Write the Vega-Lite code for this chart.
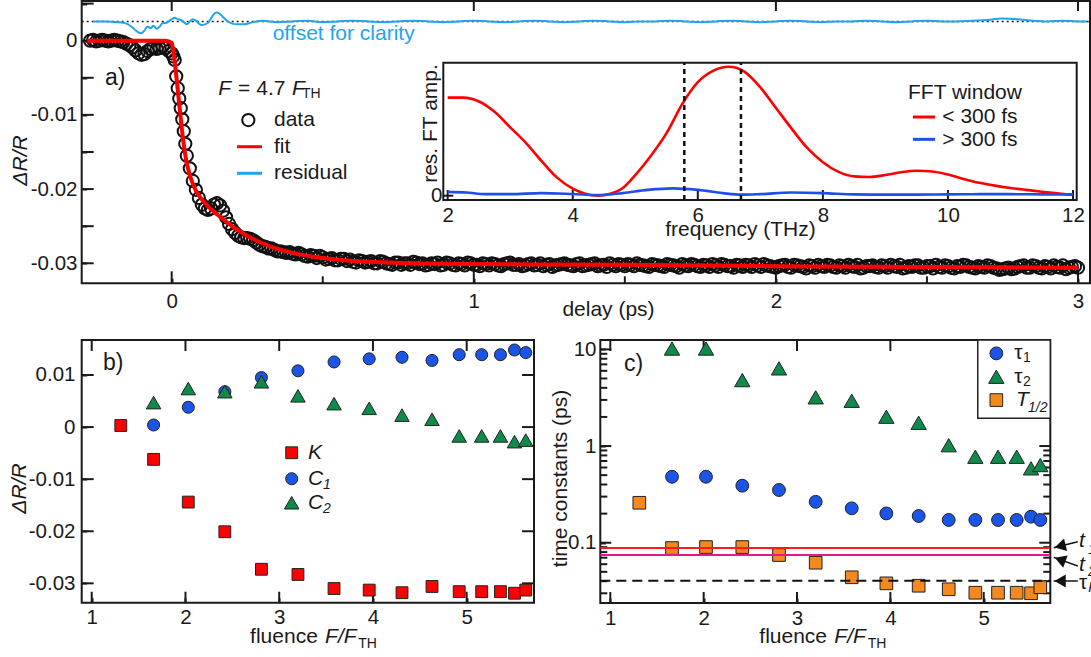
{
"$schema": "https://vega.github.io/schema/vega-lite/v6.json",
"width": 1091, "height": 657, "autosize": {"type": "none"}, "padding": 0, "background": "white",
"config": {
  "view": {"stroke": null},
  "font": "Liberation Sans",
  "axis": {"labelFont": "Liberation Sans", "labelFontSize": 20.5, "labelColor": "#1a1a1a", "titleFont": "Liberation Sans", "titleFontSize": 21, "titleFontWeight": "normal", "titleColor": "#1a1a1a", "tickColor": "#1a1a1a", "tickWidth": 2, "grid": false, "domain": false, "labelFlush": false, "labelOverlap": false, "labelBound": false, "zindex": 1},
  "text": {"font": "Liberation Sans", "fontSize": 21, "color": "#1a1a1a", "align": "left", "baseline": "middle"}
},
"datasets": {
  "a_frame": [{"x": -0.2979, "x2": 3.0397, "y": -0.0327, "y2": 0.00535}],
  "i_frame": [{"x": 1.93, "x2": 12.059, "y": -0.0333, "y2": 1.031}],
  "b_frame": [{"x": 0.893, "x2": 5.718, "y": -0.03372, "y2": 0.01672}],
  "c_frame": [{"x": 0.893, "x2": 5.713, "y": 0.0238, "y2": 12.5}],
  "a_edge": [
    {"x": -0.0033, "x2": 0.0033, "y": -0.0327, "y2": -0.03108}, {"x": 0.9967, "x2": 1.0033, "y": -0.0327, "y2": -0.03108}, {"x": 1.9967, "x2": 2.0033, "y": -0.0327, "y2": -0.03108}, {"x": 2.9967, "x2": 3.0033, "y": -0.0327, "y2": -0.03108},
    {"x": 0.4967, "x2": 0.5033, "y": -0.0327, "y2": -0.03176}, {"x": 1.4967, "x2": 1.5033, "y": -0.0327, "y2": -0.03176}, {"x": 2.4967, "x2": 2.5033, "y": -0.0327, "y2": -0.03176},
    {"x": -0.0033, "x2": 0.0033, "y": 0.00535, "y2": 0.004}, {"x": 0.9967, "x2": 1.0033, "y": 0.00535, "y2": 0.004}, {"x": 1.9967, "x2": 2.0033, "y": 0.00535, "y2": 0.004}, {"x": 2.9967, "x2": 3.0033, "y": 0.00535, "y2": 0.004},
    {"x": -0.2979, "x2": -0.2582, "y": -0.030135, "y2": -0.029865}, {"x": -0.2979, "x2": -0.2582, "y": -0.025135, "y2": -0.024865}, {"x": -0.2979, "x2": -0.2582, "y": -0.020135, "y2": -0.019865}, {"x": -0.2979, "x2": -0.2582, "y": -0.015135, "y2": -0.014865}, {"x": -0.2979, "x2": -0.2582, "y": -0.010135, "y2": -0.009865}, {"x": -0.2979, "x2": -0.2582, "y": -0.005135, "y2": -0.004865}, {"x": -0.2979, "x2": -0.2582, "y": -0.000135, "y2": 0.000135}, {"x": -0.2979, "x2": -0.2582, "y": 0.004865, "y2": 0.005135}
  ],
  "i_edge": [
    {"x": 1.984, "x2": 2.016, "y": -0.0333, "y2": 0.0442}, {"x": 3.984, "x2": 4.016, "y": -0.0333, "y2": 0.0442}, {"x": 5.984, "x2": 6.016, "y": -0.0333, "y2": 0.0442}, {"x": 7.984, "x2": 8.016, "y": -0.0333, "y2": 0.0442}, {"x": 9.984, "x2": 10.016, "y": -0.0333, "y2": 0.0442}, {"x": 11.984, "x2": 12.016, "y": -0.0333, "y2": 0.0442},
    {"x": 1.93, "x2": 2.09, "y": -0.0078, "y2": 0.0078}
  ],
  "b_edge": [
    {"x": 0.9893, "x2": 1.0107, "y": -0.03372, "y2": -0.03161}, {"x": 1.9893, "x2": 2.0107, "y": -0.03372, "y2": -0.03161}, {"x": 2.9893, "x2": 3.0107, "y": -0.03372, "y2": -0.03161}, {"x": 3.9893, "x2": 4.0107, "y": -0.03372, "y2": -0.03161}, {"x": 4.9893, "x2": 5.0107, "y": -0.03372, "y2": -0.03161},
    {"x": 0.9893, "x2": 1.0107, "y": 0.01672, "y2": 0.01461}, {"x": 1.9893, "x2": 2.0107, "y": 0.01672, "y2": 0.01461}, {"x": 2.9893, "x2": 3.0107, "y": 0.01672, "y2": 0.01461}, {"x": 3.9893, "x2": 4.0107, "y": 0.01672, "y2": 0.01461}, {"x": 4.9893, "x2": 5.0107, "y": 0.01672, "y2": 0.01461},
    {"x": 0.893, "x2": 1.021, "y": -0.030192, "y2": -0.029808}, {"x": 0.893, "x2": 1.021, "y": -0.020192, "y2": -0.019808}, {"x": 0.893, "x2": 1.021, "y": -0.010192, "y2": -0.009808}, {"x": 0.893, "x2": 1.021, "y": -0.000192, "y2": 0.000192}, {"x": 0.893, "x2": 1.021, "y": 0.009808, "y2": 0.010192},
    {"x": 5.59, "x2": 5.718, "y": -0.030192, "y2": -0.029808}, {"x": 5.59, "x2": 5.718, "y": -0.020192, "y2": -0.019808}, {"x": 5.59, "x2": 5.718, "y": -0.010192, "y2": -0.009808}, {"x": 5.59, "x2": 5.718, "y": -0.000192, "y2": 0.000192}, {"x": 5.59, "x2": 5.718, "y": 0.009808, "y2": 0.010192}
  ],
  "c_edge": [
    {"x": 0.9893, "x2": 1.0107, "y": 0.0238, "y2": 0.03093}, {"x": 1.9893, "x2": 2.0107, "y": 0.0238, "y2": 0.03093}, {"x": 2.9893, "x2": 3.0107, "y": 0.0238, "y2": 0.03093}, {"x": 3.9893, "x2": 4.0107, "y": 0.0238, "y2": 0.03093}, {"x": 4.9893, "x2": 5.0107, "y": 0.0238, "y2": 0.03093},
    {"x": 0.9893, "x2": 1.0107, "y": 9.619, "y2": 12.5}, {"x": 1.9893, "x2": 2.0107, "y": 9.619, "y2": 12.5}, {"x": 2.9893, "x2": 3.0107, "y": 9.619, "y2": 12.5}, {"x": 3.9893, "x2": 4.0107, "y": 9.619, "y2": 12.5}, {"x": 4.9893, "x2": 5.0107, "y": 9.619, "y2": 12.5},
    {"x": 0.893, "x2": 1.0108, "y": 0.09765, "y2": 0.10241}, {"x": 0.893, "x2": 1.0108, "y": 0.9765, "y2": 1.0241}, {"x": 0.893, "x2": 1.0108, "y": 9.765, "y2": 10.241},
    {"x": 5.595, "x2": 5.713, "y": 0.09765, "y2": 0.10241}, {"x": 5.595, "x2": 5.713, "y": 0.9765, "y2": 1.0241}, {"x": 5.595, "x2": 5.713, "y": 9.765, "y2": 10.241},
    {"x": 0.893, "x2": 0.968, "y": 0.02929, "y2": 0.03072}, {"x": 0.893, "x2": 0.968, "y": 0.03906, "y2": 0.04096}, {"x": 0.893, "x2": 0.968, "y": 0.04882, "y2": 0.05121}, {"x": 0.893, "x2": 0.968, "y": 0.05859, "y2": 0.06145}, {"x": 0.893, "x2": 0.968, "y": 0.06835, "y2": 0.07169}, {"x": 0.893, "x2": 0.968, "y": 0.07812, "y2": 0.08193}, {"x": 0.893, "x2": 0.968, "y": 0.08788, "y2": 0.09217}, {"x": 0.893, "x2": 0.968, "y": 0.1953, "y2": 0.2048}, {"x": 0.893, "x2": 0.968, "y": 0.2929, "y2": 0.3072}, {"x": 0.893, "x2": 0.968, "y": 0.3906, "y2": 0.4096}, {"x": 0.893, "x2": 0.968, "y": 0.4882, "y2": 0.5121}, {"x": 0.893, "x2": 0.968, "y": 0.5859, "y2": 0.6145}, {"x": 0.893, "x2": 0.968, "y": 0.6835, "y2": 0.7169}, {"x": 0.893, "x2": 0.968, "y": 0.7812, "y2": 0.8193}, {"x": 0.893, "x2": 0.968, "y": 0.8788, "y2": 0.9217}, {"x": 0.893, "x2": 0.968, "y": 1.953, "y2": 2.048}, {"x": 0.893, "x2": 0.968, "y": 2.929, "y2": 3.072}, {"x": 0.893, "x2": 0.968, "y": 3.906, "y2": 4.096}, {"x": 0.893, "x2": 0.968, "y": 4.882, "y2": 5.121}, {"x": 0.893, "x2": 0.968, "y": 5.859, "y2": 6.145}, {"x": 0.893, "x2": 0.968, "y": 6.835, "y2": 7.169}, {"x": 0.893, "x2": 0.968, "y": 7.812, "y2": 8.193}, {"x": 0.893, "x2": 0.968, "y": 8.788, "y2": 9.217},
    {"x": 5.638, "x2": 5.713, "y": 0.02929, "y2": 0.03072}, {"x": 5.638, "x2": 5.713, "y": 0.03906, "y2": 0.04096}, {"x": 5.638, "x2": 5.713, "y": 0.04882, "y2": 0.05121}, {"x": 5.638, "x2": 5.713, "y": 0.05859, "y2": 0.06145}, {"x": 5.638, "x2": 5.713, "y": 0.06835, "y2": 0.07169}, {"x": 5.638, "x2": 5.713, "y": 0.07812, "y2": 0.08193}, {"x": 5.638, "x2": 5.713, "y": 0.08788, "y2": 0.09217}, {"x": 5.638, "x2": 5.713, "y": 0.1953, "y2": 0.2048}, {"x": 5.638, "x2": 5.713, "y": 0.2929, "y2": 0.3072}, {"x": 5.638, "x2": 5.713, "y": 0.3906, "y2": 0.4096}, {"x": 5.638, "x2": 5.713, "y": 0.4882, "y2": 0.5121}, {"x": 5.638, "x2": 5.713, "y": 0.5859, "y2": 0.6145}, {"x": 5.638, "x2": 5.713, "y": 0.6835, "y2": 0.7169}, {"x": 5.638, "x2": 5.713, "y": 0.7812, "y2": 0.8193}, {"x": 5.638, "x2": 5.713, "y": 0.8788, "y2": 0.9217}, {"x": 5.638, "x2": 5.713, "y": 1.953, "y2": 2.048}, {"x": 5.638, "x2": 5.713, "y": 2.929, "y2": 3.072}, {"x": 5.638, "x2": 5.713, "y": 3.906, "y2": 4.096}, {"x": 5.638, "x2": 5.713, "y": 4.882, "y2": 5.121}, {"x": 5.638, "x2": 5.713, "y": 5.859, "y2": 6.145}, {"x": 5.638, "x2": 5.713, "y": 6.835, "y2": 7.169}, {"x": 5.638, "x2": 5.713, "y": 7.812, "y2": 8.193}, {"x": 5.638, "x2": 5.713, "y": 8.788, "y2": 9.217}
  ],
  "a_circ": [
    {"x": -0.27, "y": 0.0}, {"x": -0.26, "y": 0.0001}, {"x": -0.25, "y": -0.0001}, {"x": -0.24, "y": 0.0}, {"x": -0.23, "y": 0.0001}, {"x": -0.22, "y": 0.0}, {"x": -0.21, "y": -0.0001}, {"x": -0.2, "y": 0.0}, {"x": -0.19, "y": 0.0001}, {"x": -0.18, "y": 0.0}, {"x": -0.17, "y": -0.0001}, {"x": -0.16, "y": -0.0002}, {"x": -0.15, "y": -0.0004}, {"x": -0.14, "y": -0.0006}, {"x": -0.13, "y": -0.0009}, {"x": -0.12, "y": -0.0013}, {"x": -0.11, "y": -0.0017}, {"x": -0.1, "y": -0.0019}, {"x": -0.09, "y": -0.0018}, {"x": -0.08, "y": -0.0014}, {"x": -0.07, "y": -0.0011}, {"x": -0.06, "y": -0.0009}, {"x": -0.05, "y": -0.0011}, {"x": -0.04, "y": -0.001}, {"x": -0.03, "y": -0.0008}, {"x": -0.02, "y": -0.001}, {"x": -0.01, "y": -0.0014}, {"x": 0.0, "y": -0.0017},
    {"x": 0.005, "y": -0.0021}, {"x": 0.01, "y": -0.0026}, {"x": 0.015, "y": -0.0048}, {"x": 0.02, "y": -0.0064}, {"x": 0.025, "y": -0.0078}, {"x": 0.03, "y": -0.0091}, {"x": 0.035, "y": -0.0106}, {"x": 0.04, "y": -0.0122}, {"x": 0.045, "y": -0.0139}, {"x": 0.05, "y": -0.0155}, {"x": 0.06, "y": -0.0172}, {"x": 0.07, "y": -0.0189}, {"x": 0.08, "y": -0.0201}, {"x": 0.09, "y": -0.0212}, {"x": 0.1, "y": -0.0221}, {"x": 0.11, "y": -0.0226}, {"x": 0.12, "y": -0.0228}, {"x": 0.13, "y": -0.0226}, {"x": 0.14, "y": -0.0221}, {"x": 0.15, "y": -0.0219}, {"x": 0.16, "y": -0.0222}, {"x": 0.17, "y": -0.0229}, {"x": 0.18, "y": -0.0238}, {"x": 0.19, "y": -0.0247}, {"x": 0.2, "y": -0.0254}, {"x": 0.21, "y": -0.0259}, {"x": 0.22, "y": -0.0263}, {"x": 0.23, "y": -0.0265}, {"x": 0.24, "y": -0.0266}, {"x": 0.25, "y": -0.0266}, {"x": 0.26, "y": -0.0267}, {"x": 0.27, "y": -0.0269}, {"x": 0.28, "y": -0.0272}, {"x": 0.29, "y": -0.0275}, {"x": 0.3, "y": -0.0277}, {"x": 0.31, "y": -0.0278}, {"x": 0.32, "y": -0.028}, {"x": 0.33, "y": -0.028}, {"x": 0.34, "y": -0.0282}, {"x": 0.35, "y": -0.0284}, {"x": 0.36, "y": -0.0284}, {"x": 0.37, "y": -0.0285}, {"x": 0.38, "y": -0.0286}, {"x": 0.39, "y": -0.0285}, {"x": 0.4, "y": -0.0287}, {"x": 0.41, "y": -0.0288},
    {"x": 0.42, "y": -0.0286}, {"x": 0.43, "y": -0.0288}, {"x": 0.44, "y": -0.029}, {"x": 0.45, "y": -0.0291}, {"x": 0.46, "y": -0.0289}, {"x": 0.47, "y": -0.029}, {"x": 0.48, "y": -0.0293}, {"x": 0.49, "y": -0.029}, {"x": 0.5, "y": -0.0292}, {"x": 0.51, "y": -0.0295}, {"x": 0.52, "y": -0.0294}, {"x": 0.53, "y": -0.0293}, {"x": 0.54, "y": -0.0296}, {"x": 0.55, "y": -0.0296}, {"x": 0.56, "y": -0.0294}, {"x": 0.57, "y": -0.0294}, {"x": 0.58, "y": -0.0297}, {"x": 0.59, "y": -0.0295}, {"x": 0.6, "y": -0.0298}, {"x": 0.61, "y": -0.0299}, {"x": 0.62, "y": -0.0296}, {"x": 0.63, "y": -0.0297}, {"x": 0.64, "y": -0.0299}, {"x": 0.65, "y": -0.0298}, {"x": 0.66, "y": -0.0297}, {"x": 0.67, "y": -0.03}, {"x": 0.68, "y": -0.03}, {"x": 0.69, "y": -0.0297}, {"x": 0.7, "y": -0.0298}, {"x": 0.71, "y": -0.03}, {"x": 0.72, "y": -0.0301}, {"x": 0.73, "y": -0.0302}, {"x": 0.74, "y": -0.0299}, {"x": 0.75, "y": -0.0299}, {"x": 0.76, "y": -0.0302}, {"x": 0.77, "y": -0.03}, {"x": 0.78, "y": -0.03}, {"x": 0.79, "y": -0.0302}, {"x": 0.8, "y": -0.0298}, {"x": 0.81, "y": -0.0299}, {"x": 0.82, "y": -0.0301}, {"x": 0.83, "y": -0.03}, {"x": 0.84, "y": -0.0303}, {"x": 0.85, "y": -0.0302}, {"x": 0.86, "y": -0.03}, {"x": 0.87, "y": -0.0301}, {"x": 0.88, "y": -0.0299}, {"x": 0.89, "y": -0.0303}, {"x": 0.9, "y": -0.0302}, {"x": 0.91, "y": -0.0299}, {"x": 0.92, "y": -0.03}, {"x": 0.93, "y": -0.0302}, {"x": 0.94, "y": -0.0303}, {"x": 0.95, "y": -0.03}, {"x": 0.96, "y": -0.0301}, {"x": 0.97, "y": -0.0303}, {"x": 0.98, "y": -0.0299}, {"x": 0.99, "y": -0.03}, {"x": 1.0, "y": -0.0302},
    {"x": 1.01, "y": -0.0302}, {"x": 1.02, "y": -0.0304}, {"x": 1.03, "y": -0.03}, {"x": 1.04, "y": -0.0301}, {"x": 1.05, "y": -0.0303}, {"x": 1.06, "y": -0.03}, {"x": 1.07, "y": -0.0301}, {"x": 1.08, "y": -0.0303}, {"x": 1.09, "y": -0.0304}, {"x": 1.1, "y": -0.0301}, {"x": 1.11, "y": -0.03}, {"x": 1.12, "y": -0.0299}, {"x": 1.13, "y": -0.0302}, {"x": 1.14, "y": -0.0302}, {"x": 1.15, "y": -0.0301}, {"x": 1.16, "y": -0.0304}, {"x": 1.17, "y": -0.0303}, {"x": 1.18, "y": -0.0301}, {"x": 1.19, "y": -0.03}, {"x": 1.2, "y": -0.0303}, {"x": 1.21, "y": -0.0302}, {"x": 1.22, "y": -0.03}, {"x": 1.23, "y": -0.0304}, {"x": 1.24, "y": -0.0302}, {"x": 1.25, "y": -0.0301}, {"x": 1.26, "y": -0.0305}, {"x": 1.27, "y": -0.0303}, {"x": 1.28, "y": -0.0302}, {"x": 1.29, "y": -0.0301}, {"x": 1.3, "y": -0.03}, {"x": 1.31, "y": -0.0302}, {"x": 1.32, "y": -0.0303}, {"x": 1.33, "y": -0.0304}, {"x": 1.34, "y": -0.0301}, {"x": 1.35, "y": -0.03}, {"x": 1.36, "y": -0.0304}, {"x": 1.37, "y": -0.0303}, {"x": 1.38, "y": -0.0302}, {"x": 1.39, "y": -0.0301}, {"x": 1.4, "y": -0.03}, {"x": 1.41, "y": -0.0304}, {"x": 1.42, "y": -0.0303}, {"x": 1.43, "y": -0.0302}, {"x": 1.44, "y": -0.0305}, {"x": 1.45, "y": -0.03}, {"x": 1.46, "y": -0.0302}, {"x": 1.47, "y": -0.0304}, {"x": 1.48, "y": -0.0301}, {"x": 1.49, "y": -0.0302}, {"x": 1.5, "y": -0.0304}, {"x": 1.51, "y": -0.0301}, {"x": 1.52, "y": -0.0302}, {"x": 1.53, "y": -0.0304}, {"x": 1.54, "y": -0.03}, {"x": 1.55, "y": -0.0302}, {"x": 1.56, "y": -0.0303}, {"x": 1.57, "y": -0.0304}, {"x": 1.58, "y": -0.0305}, {"x": 1.59, "y": -0.0301}, {"x": 1.6, "y": -0.0302}, {"x": 1.61, "y": -0.0303}, {"x": 1.62, "y": -0.0304}, {"x": 1.63, "y": -0.0305}, {"x": 1.64, "y": -0.0301}, {"x": 1.65, "y": -0.0302}, {"x": 1.66, "y": -0.0303}, {"x": 1.67, "y": -0.0304}, {"x": 1.68, "y": -0.0306}, {"x": 1.69, "y": -0.0301}, {"x": 1.7, "y": -0.0303}, {"x": 1.71, "y": -0.0304}, {"x": 1.72, "y": -0.0301}, {"x": 1.73, "y": -0.0302}, {"x": 1.74, "y": -0.0304}, {"x": 1.75, "y": -0.0305}, {"x": 1.76, "y": -0.0302}, {"x": 1.77, "y": -0.0303}, {"x": 1.78, "y": -0.0305}, {"x": 1.79, "y": -0.0301}, {"x": 1.8, "y": -0.0303}, {"x": 1.81, "y": -0.0305}, {"x": 1.82, "y": -0.0301}, {"x": 1.83, "y": -0.0302}, {"x": 1.84, "y": -0.0304}, {"x": 1.85, "y": -0.0304}, {"x": 1.86, "y": -0.0306}, {"x": 1.87, "y": -0.0302}, {"x": 1.88, "y": -0.0303}, {"x": 1.89, "y": -0.0305}, {"x": 1.9, "y": -0.0302}, {"x": 1.91, "y": -0.0303}, {"x": 1.92, "y": -0.0305}, {"x": 1.93, "y": -0.0301}, {"x": 1.94, "y": -0.0303}, {"x": 1.95, "y": -0.0305}, {"x": 1.96, "y": -0.0301}, {"x": 1.97, "y": -0.0303}, {"x": 1.98, "y": -0.0304}, {"x": 1.99, "y": -0.0305}, {"x": 2.0, "y": -0.0306},
    {"x": 2.01, "y": -0.0304}, {"x": 2.02, "y": -0.0303}, {"x": 2.03, "y": -0.0302}, {"x": 2.04, "y": -0.0305}, {"x": 2.05, "y": -0.0306}, {"x": 2.06, "y": -0.0302}, {"x": 2.07, "y": -0.0303}, {"x": 2.08, "y": -0.0304}, {"x": 2.09, "y": -0.0305}, {"x": 2.1, "y": -0.0307}, {"x": 2.11, "y": -0.0303}, {"x": 2.12, "y": -0.0304}, {"x": 2.13, "y": -0.0306}, {"x": 2.14, "y": -0.0302}, {"x": 2.15, "y": -0.0304}, {"x": 2.16, "y": -0.0305}, {"x": 2.17, "y": -0.0302}, {"x": 2.18, "y": -0.0303}, {"x": 2.19, "y": -0.0305}, {"x": 2.2, "y": -0.0306}, {"x": 2.21, "y": -0.0303}, {"x": 2.22, "y": -0.0304}, {"x": 2.23, "y": -0.0306}, {"x": 2.24, "y": -0.0302}, {"x": 2.25, "y": -0.0304}, {"x": 2.26, "y": -0.0305}, {"x": 2.27, "y": -0.0302}, {"x": 2.28, "y": -0.0307}, {"x": 2.29, "y": -0.0306}, {"x": 2.3, "y": -0.0304}, {"x": 2.31, "y": -0.0304}, {"x": 2.32, "y": -0.0303}, {"x": 2.33, "y": -0.0305}, {"x": 2.34, "y": -0.0306}, {"x": 2.35, "y": -0.0303}, {"x": 2.36, "y": -0.0304}, {"x": 2.37, "y": -0.0306}, {"x": 2.38, "y": -0.0302}, {"x": 2.39, "y": -0.0304}, {"x": 2.4, "y": -0.0305}, {"x": 2.41, "y": -0.0302}, {"x": 2.42, "y": -0.0307}, {"x": 2.43, "y": -0.0306}, {"x": 2.44, "y": -0.0304}, {"x": 2.45, "y": -0.0305}, {"x": 2.46, "y": -0.0303}, {"x": 2.47, "y": -0.0303}, {"x": 2.48, "y": -0.0306}, {"x": 2.49, "y": -0.0306}, {"x": 2.5, "y": -0.0304}, {"x": 2.51, "y": -0.0304}, {"x": 2.52, "y": -0.0307}, {"x": 2.53, "y": -0.0302}, {"x": 2.54, "y": -0.0305}, {"x": 2.55, "y": -0.0306}, {"x": 2.56, "y": -0.0303}, {"x": 2.57, "y": -0.0304}, {"x": 2.58, "y": -0.0306}, {"x": 2.59, "y": -0.0307}, {"x": 2.6, "y": -0.0304}, {"x": 2.61, "y": -0.0305}, {"x": 2.62, "y": -0.0302}, {"x": 2.63, "y": -0.0303}, {"x": 2.64, "y": -0.0305}, {"x": 2.65, "y": -0.0306}, {"x": 2.66, "y": -0.0307}, {"x": 2.67, "y": -0.0304}, {"x": 2.68, "y": -0.0305}, {"x": 2.69, "y": -0.0306}, {"x": 2.7, "y": -0.0303}, {"x": 2.71, "y": -0.0304}, {"x": 2.72, "y": -0.0306}, {"x": 2.73, "y": -0.0307}, {"x": 2.74, "y": -0.0309}, {"x": 2.75, "y": -0.0308}, {"x": 2.76, "y": -0.0307}, {"x": 2.77, "y": -0.0306}, {"x": 2.78, "y": -0.0308}, {"x": 2.79, "y": -0.0307}, {"x": 2.8, "y": -0.0305}, {"x": 2.81, "y": -0.0304}, {"x": 2.82, "y": -0.0303}, {"x": 2.83, "y": -0.0306}, {"x": 2.84, "y": -0.0306}, {"x": 2.85, "y": -0.0303}, {"x": 2.86, "y": -0.0304}, {"x": 2.87, "y": -0.0306}, {"x": 2.88, "y": -0.0307}, {"x": 2.89, "y": -0.0304}, {"x": 2.9, "y": -0.0305}, {"x": 2.91, "y": -0.0307}, {"x": 2.92, "y": -0.0303}, {"x": 2.93, "y": -0.0305}, {"x": 2.94, "y": -0.0306}, {"x": 2.95, "y": -0.0303}, {"x": 2.96, "y": -0.0308}, {"x": 2.97, "y": -0.0306}, {"x": 2.98, "y": -0.0305}, {"x": 2.99, "y": -0.0304}, {"x": 3.0, "y": -0.0306}
  ],
  "a_fit": [
    {"x": -0.28, "y": 0.0}, {"x": -0.1, "y": 0.0}, {"x": -0.02, "y": 0.0}, {"x": 0.0, "y": -0.0003}, {"x": 0.005, "y": -0.0013}, {"x": 0.01, "y": -0.0028}, {"x": 0.015, "y": -0.0047}, {"x": 0.02, "y": -0.0066}, {"x": 0.025, "y": -0.0086}, {"x": 0.03, "y": -0.0105}, {"x": 0.035, "y": -0.0124}, {"x": 0.04, "y": -0.014}, {"x": 0.045, "y": -0.0154}, {"x": 0.05, "y": -0.0165}, {"x": 0.06, "y": -0.0181}, {"x": 0.07, "y": -0.0193}, {"x": 0.08, "y": -0.0202}, {"x": 0.1, "y": -0.0214}, {"x": 0.12, "y": -0.0223}, {"x": 0.15, "y": -0.0234}, {"x": 0.2, "y": -0.025}, {"x": 0.25, "y": -0.0263}, {"x": 0.3, "y": -0.0273}, {"x": 0.4, "y": -0.0286}, {"x": 0.5, "y": -0.0293}, {"x": 0.6, "y": -0.0297}, {"x": 0.8, "y": -0.03}, {"x": 1.0, "y": -0.0301}, {"x": 1.5, "y": -0.0302}, {"x": 2.0, "y": -0.0304}, {"x": 2.5, "y": -0.0305}, {"x": 3.0, "y": -0.0306}
  ],
  "a_res": [
    {"x": -0.26, "y": 0.0026}, {"x": -0.22, "y": 0.0026}, {"x": -0.18, "y": 0.0025}, {"x": -0.15, "y": 0.0023}, {"x": -0.13, "y": 0.0018}, {"x": -0.11, "y": 0.0011}, {"x": -0.1, "y": 0.001}, {"x": -0.09, "y": 0.0014}, {"x": -0.08, "y": 0.0019}, {"x": -0.07, "y": 0.0017}, {"x": -0.06, "y": 0.002}, {"x": -0.05, "y": 0.0016}, {"x": -0.04, "y": 0.0019}, {"x": -0.03, "y": 0.0024}, {"x": -0.02, "y": 0.0024}, {"x": -0.01, "y": 0.0026}, {"x": 0.0, "y": 0.0029}, {"x": 0.01, "y": 0.0031}, {"x": 0.02, "y": 0.0029}, {"x": 0.03, "y": 0.0028}, {"x": 0.04, "y": 0.0025}, {"x": 0.05, "y": 0.0022}, {"x": 0.06, "y": 0.0026}, {"x": 0.07, "y": 0.0029}, {"x": 0.08, "y": 0.0027}, {"x": 0.09, "y": 0.0023}, {"x": 0.1, "y": 0.0021}, {"x": 0.11, "y": 0.0022}, {"x": 0.12, "y": 0.0024}, {"x": 0.13, "y": 0.003}, {"x": 0.14, "y": 0.0036}, {"x": 0.15, "y": 0.0038}, {"x": 0.16, "y": 0.0036}, {"x": 0.17, "y": 0.0032}, {"x": 0.18, "y": 0.0028}, {"x": 0.19, "y": 0.0025}, {"x": 0.2, "y": 0.0023}, {"x": 0.22, "y": 0.0022}, {"x": 0.24, "y": 0.0022}, {"x": 0.26, "y": 0.0024}, {"x": 0.28, "y": 0.0026}, {"x": 0.3, "y": 0.0027}, {"x": 0.35, "y": 0.0025}, {"x": 0.4, "y": 0.0026}, {"x": 0.45, "y": 0.0027}, {"x": 0.5, "y": 0.0025}, {"x": 0.55, "y": 0.0026}, {"x": 0.6, "y": 0.0027}, {"x": 0.65, "y": 0.0026}, {"x": 0.7, "y": 0.0025}, {"x": 0.75, "y": 0.0026}, {"x": 0.8, "y": 0.0027}, {"x": 0.85, "y": 0.0026}, {"x": 0.9, "y": 0.0025}, {"x": 0.95, "y": 0.0026}, {"x": 1.0, "y": 0.0027}, {"x": 1.05, "y": 0.0026}, {"x": 1.1, "y": 0.0025}, {"x": 1.15, "y": 0.0026}, {"x": 1.2, "y": 0.0027}, {"x": 1.25, "y": 0.0026}, {"x": 1.3, "y": 0.0025}, {"x": 1.35, "y": 0.0026}, {"x": 1.4, "y": 0.0027}, {"x": 1.45, "y": 0.0026}, {"x": 1.5, "y": 0.0025}, {"x": 1.55, "y": 0.0026}, {"x": 1.6, "y": 0.0026}, {"x": 1.65, "y": 0.0027}, {"x": 1.7, "y": 0.0026}, {"x": 1.75, "y": 0.0025}, {"x": 1.8, "y": 0.0026}, {"x": 1.85, "y": 0.0027}, {"x": 1.9, "y": 0.0026}, {"x": 1.95, "y": 0.0025}, {"x": 2.0, "y": 0.0026}, {"x": 2.05, "y": 0.0027}, {"x": 2.1, "y": 0.0026}, {"x": 2.15, "y": 0.0025}, {"x": 2.2, "y": 0.0026}, {"x": 2.25, "y": 0.0026}, {"x": 2.3, "y": 0.0027}, {"x": 2.35, "y": 0.0026}, {"x": 2.4, "y": 0.0025}, {"x": 2.45, "y": 0.0026}, {"x": 2.5, "y": 0.0027}, {"x": 2.55, "y": 0.0026}, {"x": 2.6, "y": 0.0026}, {"x": 2.65, "y": 0.0027}, {"x": 2.7, "y": 0.0028}, {"x": 2.75, "y": 0.003}, {"x": 2.8, "y": 0.0029}, {"x": 2.85, "y": 0.0027}, {"x": 2.9, "y": 0.0026}, {"x": 2.95, "y": 0.0027}, {"x": 3.0, "y": 0.0026}, {"x": 3.03, "y": 0.0026}
  ],
  "i_red": [
    {"x": 2.0, "y": 0.76}, {"x": 2.25, "y": 0.76}, {"x": 2.5, "y": 0.73}, {"x": 2.75, "y": 0.65}, {"x": 3.0, "y": 0.53}, {"x": 3.25, "y": 0.41}, {"x": 3.5, "y": 0.27}, {"x": 3.75, "y": 0.14}, {"x": 4.0, "y": 0.055}, {"x": 4.2, "y": 0.015}, {"x": 4.4, "y": 0.0}, {"x": 4.6, "y": 0.015}, {"x": 4.8, "y": 0.06}, {"x": 5.0, "y": 0.16}, {"x": 5.25, "y": 0.31}, {"x": 5.5, "y": 0.485}, {"x": 5.75, "y": 0.71}, {"x": 6.0, "y": 0.88}, {"x": 6.25, "y": 0.97}, {"x": 6.5, "y": 1.0}, {"x": 6.75, "y": 0.96}, {"x": 7.0, "y": 0.84}, {"x": 7.25, "y": 0.68}, {"x": 7.5, "y": 0.52}, {"x": 7.75, "y": 0.37}, {"x": 8.0, "y": 0.26}, {"x": 8.25, "y": 0.185}, {"x": 8.5, "y": 0.15}, {"x": 8.75, "y": 0.145}, {"x": 9.0, "y": 0.16}, {"x": 9.25, "y": 0.182}, {"x": 9.5, "y": 0.194}, {"x": 9.75, "y": 0.187}, {"x": 10.0, "y": 0.165}, {"x": 10.25, "y": 0.13}, {"x": 10.5, "y": 0.1}, {"x": 10.75, "y": 0.078}, {"x": 11.0, "y": 0.06}, {"x": 11.25, "y": 0.045}, {"x": 11.5, "y": 0.031}, {"x": 11.75, "y": 0.018}, {"x": 12.0, "y": 0.005}
  ],
  "i_blue": [
    {"x": 2.0, "y": 0.03}, {"x": 2.3, "y": 0.025}, {"x": 2.6, "y": 0.012}, {"x": 3.0, "y": 0.012}, {"x": 3.5, "y": 0.02}, {"x": 4.0, "y": 0.013}, {"x": 4.4, "y": 0.005}, {"x": 4.8, "y": 0.02}, {"x": 5.2, "y": 0.045}, {"x": 5.6, "y": 0.057}, {"x": 6.0, "y": 0.045}, {"x": 6.4, "y": 0.02}, {"x": 6.7, "y": 0.008}, {"x": 7.0, "y": 0.012}, {"x": 7.5, "y": 0.025}, {"x": 8.0, "y": 0.02}, {"x": 8.5, "y": 0.01}, {"x": 9.0, "y": 0.008}, {"x": 9.5, "y": 0.008}, {"x": 10.0, "y": 0.01}, {"x": 10.5, "y": 0.012}, {"x": 11.0, "y": 0.012}, {"x": 11.5, "y": 0.01}, {"x": 12.0, "y": 0.01}
  ],
  "b_K": [
    {"x": 1.31, "y": 0.0003}, {"x": 1.66, "y": -0.0062}, {"x": 2.03, "y": -0.0144}, {"x": 2.42, "y": -0.0201}, {"x": 2.81, "y": -0.0273}, {"x": 3.2, "y": -0.0283}, {"x": 3.585, "y": -0.031}, {"x": 3.96, "y": -0.0313}, {"x": 4.31, "y": -0.0318}, {"x": 4.63, "y": -0.0306}, {"x": 4.92, "y": -0.0316}, {"x": 5.16, "y": -0.0316}, {"x": 5.36, "y": -0.0316}, {"x": 5.51, "y": -0.0319}, {"x": 5.63, "y": -0.0313}
  ],
  "b_C1": [
    {"x": 1.66, "y": 0.0004}, {"x": 2.03, "y": 0.0038}, {"x": 2.42, "y": 0.0068}, {"x": 2.81, "y": 0.0095}, {"x": 3.2, "y": 0.0108}, {"x": 3.585, "y": 0.0125}, {"x": 3.96, "y": 0.0131}, {"x": 4.31, "y": 0.0134}, {"x": 4.63, "y": 0.0128}, {"x": 4.92, "y": 0.0139}, {"x": 5.16, "y": 0.0139}, {"x": 5.36, "y": 0.0139}, {"x": 5.51, "y": 0.0148}, {"x": 5.63, "y": 0.0143}
  ],
  "b_C2": [
    {"x": 1.66, "y": 0.0047}, {"x": 2.03, "y": 0.0074}, {"x": 2.42, "y": 0.0068}, {"x": 2.81, "y": 0.0087}, {"x": 3.2, "y": 0.006}, {"x": 3.585, "y": 0.0045}, {"x": 3.96, "y": 0.0036}, {"x": 4.31, "y": 0.0023}, {"x": 4.63, "y": 0.0015}, {"x": 4.92, "y": -0.0017}, {"x": 5.16, "y": -0.0017}, {"x": 5.36, "y": -0.0017}, {"x": 5.51, "y": -0.0028}, {"x": 5.63, "y": -0.0025}
  ],
  "c_t1": [
    {"x": 1.661, "y": 0.481}, {"x": 2.025, "y": 0.481}, {"x": 2.414, "y": 0.389}, {"x": 2.807, "y": 0.351}, {"x": 3.2, "y": 0.265}, {"x": 3.586, "y": 0.227}, {"x": 3.957, "y": 0.201}, {"x": 4.303, "y": 0.189}, {"x": 4.625, "y": 0.172}, {"x": 4.91, "y": 0.172}, {"x": 5.153, "y": 0.172}, {"x": 5.353, "y": 0.172}, {"x": 5.507, "y": 0.186}, {"x": 5.606, "y": 0.172}
  ],
  "c_t2": [
    {"x": 1.661, "y": 10.2}, {"x": 2.025, "y": 10.2}, {"x": 2.414, "y": 4.81}, {"x": 2.807, "y": 6.36}, {"x": 3.2, "y": 3.19}, {"x": 3.586, "y": 2.94}, {"x": 3.957, "y": 2.01}, {"x": 4.303, "y": 1.74}, {"x": 4.625, "y": 1.02}, {"x": 4.91, "y": 0.775}, {"x": 5.153, "y": 0.775}, {"x": 5.353, "y": 0.775}, {"x": 5.507, "y": 0.588}, {"x": 5.606, "y": 0.636}
  ],
  "c_T": [
    {"x": 1.311, "y": 0.259}, {"x": 1.661, "y": 0.0881}, {"x": 2.025, "y": 0.0902}, {"x": 2.414, "y": 0.0902}, {"x": 2.807, "y": 0.0746}, {"x": 3.2, "y": 0.0621}, {"x": 3.586, "y": 0.0439}, {"x": 3.957, "y": 0.038}, {"x": 4.303, "y": 0.0359}, {"x": 4.625, "y": 0.033}, {"x": 4.91, "y": 0.0304}, {"x": 5.153, "y": 0.0304}, {"x": 5.353, "y": 0.0304}, {"x": 5.507, "y": 0.03}, {"x": 5.606, "y": 0.0346}
  ]
},
"resolve": {"scale": {"x": "independent", "y": "independent"}, "axis": {"x": "independent", "y": "independent"}},
"layer": [
  {
    "encoding": {
      "x": {"field": "x", "type": "quantitative", "scale": {"domain": [-0.2979, 3.0397], "range": [81.7, 1090], "nice": false, "zero": false}, "axis": null},
      "y": {"field": "y", "type": "quantitative", "scale": {"domain": [-0.0327, 0.00535], "range": [283.3, 1], "nice": false, "zero": false}, "axis": null}
    },
    "layer": [
      {"data": {"name": "a_frame"}, "mark": {"type": "rect", "fill": "white", "fillOpacity": 0, "stroke": "#1a1a1a", "strokeWidth": 2}, "encoding": {"x2": {"field": "x2"}, "y2": {"field": "y2"}}},
      {"data": {"name": "a_edge"}, "mark": {"type": "rect", "fill": "#1a1a1a", "strokeWidth": 0, "opacity": 1}, "encoding": {"x2": {"field": "x2"}, "y2": {"field": "y2"}}},
      {"data": {"values": [{"x": -0.2979, "x2": 3.0397, "y": 0.0026}]}, "mark": {"type": "rule", "color": "#1a1a1a", "strokeWidth": 1.5, "strokeDash": [2, 3]}, "encoding": {"x2": {"field": "x2"}}},
      {"data": {"name": "a_res"}, "mark": {"type": "line", "color": "#1ea5ee", "strokeWidth": 2, "interpolate": "monotone"}},
      {"data": {"name": "a_circ"}, "mark": {"type": "point", "shape": "circle", "filled": false, "stroke": "#111111", "strokeWidth": 2, "size": 150, "opacity": 1}},
      {"data": {"name": "a_fit"}, "mark": {"type": "line", "color": "#ff0000", "strokeWidth": 4, "interpolate": "monotone"}},
      {"data": {"values": [{"x": 0.2536, "y": -0.01069}]}, "mark": {"type": "point", "shape": "circle", "filled": false, "stroke": "#111111", "strokeWidth": 2, "size": 150, "opacity": 1}},
      {"data": {"values": [{"x": 0.2162, "x2": 0.2989, "y": -0.01429}]}, "mark": {"type": "rule", "color": "#ff0000", "strokeWidth": 3}, "encoding": {"x2": {"field": "x2"}}},
      {"data": {"values": [{"x": 0.2162, "x2": 0.2989, "y": -0.01787}]}, "mark": {"type": "rule", "color": "#1ea5ee", "strokeWidth": 3}, "encoding": {"x2": {"field": "x2"}}},
      {"data": {"values": [{"x": 0.2198, "y": -0.00651, "t": "= 4.7"}, {"x": 0.3386, "y": -0.01069, "t": "data"}, {"x": 0.3386, "y": -0.01429, "t": "fit"}, {"x": 0.3386, "y": -0.01787, "t": "residual"}]},
       "mark": {"type": "text"}, "encoding": {"text": {"field": "t"}}},
      {"data": {"values": [{"x": 0.1539, "y": -0.00651, "t": "F"}, {"x": 0.3982, "y": -0.00651, "t": "F"}]},
       "mark": {"type": "text", "fontStyle": "italic"}, "encoding": {"text": {"field": "t"}}},
      {"data": {"values": [{"x": 0.4313, "y": -0.00712, "t": "TH"}]},
       "mark": {"type": "text", "fontSize": 14}, "encoding": {"text": {"field": "t"}}},
      {"data": {"values": [{"x": -0.2208, "y": -0.00503, "t": "a)"}]},
       "mark": {"type": "text", "fontSize": 23}, "encoding": {"text": {"field": "t"}}},
      {"data": {"values": [{"x": 0.3343, "y": 0.0009, "t": "offset for clarity"}]},
       "mark": {"type": "text", "color": "#1ea5ee"}, "encoding": {"text": {"field": "t"}}}
    ]
  },
  {
    "encoding": {
      "x": {"field": "x", "type": "quantitative", "scale": {"domain": [1.93, 12.059], "range": [443.3, 1076.7], "nice": false, "zero": false}, "axis": null},
      "y": {"field": "y", "type": "quantitative", "scale": {"domain": [-0.0333, 1.031], "range": [200, 62.7], "nice": false, "zero": false}, "axis": null}
    },
    "layer": [
      {"data": {"name": "i_frame"}, "mark": {"type": "rect", "fill": "white", "fillOpacity": 1, "stroke": "#1a1a1a", "strokeWidth": 2}, "encoding": {"x2": {"field": "x2"}, "y2": {"field": "y2"}}},
      {"data": {"name": "i_edge"}, "mark": {"type": "rect", "fill": "#1a1a1a", "strokeWidth": 0, "opacity": 1}, "encoding": {"x2": {"field": "x2"}, "y2": {"field": "y2"}}},
      {"data": {"name": "i_red"}, "mark": {"type": "line", "color": "#ff0000", "strokeWidth": 2.6, "interpolate": "monotone"}},
      {"data": {"name": "i_blue"}, "mark": {"type": "line", "color": "#1f4fe8", "strokeWidth": 2.6, "interpolate": "monotone"}},
      {"data": {"values": [{"x": 5.784, "y": -0.0333, "y2": 1.031}, {"x": 6.69, "y": -0.0333, "y2": 1.031}]}, "mark": {"type": "rule", "color": "#111111", "strokeWidth": 2.5, "strokeDash": [5, 4]}, "encoding": {"y2": {"field": "y2"}}},
      {"data": {"values": [{"x": 9.44, "x2": 9.795, "y": 0.61}]}, "mark": {"type": "rule", "color": "#ff0000", "strokeWidth": 3}, "encoding": {"x2": {"field": "x2"}}},
      {"data": {"values": [{"x": 9.44, "x2": 9.795, "y": 0.437}]}, "mark": {"type": "rule", "color": "#1f4fe8", "strokeWidth": 3}, "encoding": {"x2": {"field": "x2"}}},
      {"data": {"values": [{"x": 9.361, "y": 0.794, "t": "FFT window"}, {"x": 9.91, "y": 0.608, "t": "< 300 fs"}, {"x": 9.91, "y": 0.432, "t": "> 300 fs"}]},
       "mark": {"type": "text"}, "encoding": {"text": {"field": "t"}}}
    ]
  },
  {
    "encoding": {
      "x": {"field": "x", "type": "quantitative", "scale": {"domain": [0.893, 5.718], "range": [81.7, 534], "nice": false, "zero": false}, "axis": null},
      "y": {"field": "y", "type": "quantitative", "scale": {"domain": [-0.03372, 0.01672], "range": [602.7, 340], "nice": false, "zero": false}, "axis": null}
    },
    "layer": [
      {"data": {"name": "b_frame"}, "mark": {"type": "rect", "fill": "white", "fillOpacity": 0, "stroke": "#1a1a1a", "strokeWidth": 2}, "encoding": {"x2": {"field": "x2"}, "y2": {"field": "y2"}}},
      {"data": {"name": "b_edge"}, "mark": {"type": "rect", "fill": "#1a1a1a", "strokeWidth": 0, "opacity": 1}, "encoding": {"x2": {"field": "x2"}, "y2": {"field": "y2"}}},
      {"data": {"name": "b_K"}, "mark": {"type": "point", "shape": "square", "filled": true, "fill": "#ff0000", "stroke": "#222222", "strokeWidth": 1, "size": 140, "opacity": 1}},
      {"data": {"name": "b_C1"}, "mark": {"type": "point", "shape": "circle", "filled": true, "fill": "#1a55e8", "stroke": "#222222", "strokeWidth": 1, "size": 145, "opacity": 1}},
      {"data": {"name": "b_C2"}, "mark": {"type": "point", "shape": "triangle-up", "filled": true, "fill": "#0f8a4a", "stroke": "#222222", "strokeWidth": 1, "size": 210, "opacity": 1}},
      {"data": {"values": [{"x": 3.133, "y": -0.00493}]}, "mark": {"type": "point", "shape": "square", "filled": true, "fill": "#ff0000", "stroke": "#222222", "strokeWidth": 1, "size": 140, "opacity": 1}},
      {"data": {"values": [{"x": 3.133, "y": -0.00992}]}, "mark": {"type": "point", "shape": "circle", "filled": true, "fill": "#1a55e8", "stroke": "#222222", "strokeWidth": 1, "size": 145, "opacity": 1}},
      {"data": {"values": [{"x": 3.133, "y": -0.01453}]}, "mark": {"type": "point", "shape": "triangle-up", "filled": true, "fill": "#0f8a4a", "stroke": "#222222", "strokeWidth": 1, "size": 210, "opacity": 1}},
      {"data": {"values": [{"x": 2.6896, "y": -0.0404, "t": "fluence"}]}, "mark": {"type": "text"}, "encoding": {"text": {"field": "t"}}},
      {"data": {"values": [{"x": 3.307, "y": -0.00493, "t": "K"}, {"x": 3.307, "y": -0.00992, "t": "C"}, {"x": 3.307, "y": -0.01453, "t": "C"}, {"x": 3.4896, "y": -0.0404, "t": "F/F"}]},
       "mark": {"type": "text", "fontStyle": "italic"}, "encoding": {"text": {"field": "t"}}},
      {"data": {"values": [{"x": 3.467, "y": -0.01113, "t": "1"}, {"x": 3.467, "y": -0.01574, "t": "2"}]},
       "mark": {"type": "text", "fontStyle": "italic", "fontSize": 14}, "encoding": {"text": {"field": "t"}}},
      {"data": {"values": [{"x": 3.8437, "y": -0.04171, "t": "TH"}]},
       "mark": {"type": "text", "fontSize": 14}, "encoding": {"text": {"field": "t"}}},
      {"data": {"values": [{"x": 1.12, "y": 0.01228, "t": "b)"}]},
       "mark": {"type": "text", "fontSize": 23}, "encoding": {"text": {"field": "t"}}}
    ]
  },
  {
    "encoding": {
      "x": {"field": "x", "type": "quantitative", "scale": {"domain": [0.893, 5.713], "range": [600.3, 1050.3], "nice": false, "zero": false}, "axis": null},
      "y": {"field": "y", "type": "quantitative", "scale": {"type": "log", "domain": [0.0238, 12.5], "range": [603, 340], "nice": false, "zero": false}, "axis": null}
    },
    "layer": [
      {"data": {"name": "c_frame"}, "mark": {"type": "rect", "fill": "white", "fillOpacity": 0, "stroke": "#1a1a1a", "strokeWidth": 2}, "encoding": {"x2": {"field": "x2"}, "y2": {"field": "y2"}}},
      {"data": {"name": "c_edge"}, "mark": {"type": "rect", "fill": "#1a1a1a", "strokeWidth": 0, "opacity": 1}, "encoding": {"x2": {"field": "x2"}, "y2": {"field": "y2"}}},
      {"data": {"name": "c_t1"}, "mark": {"type": "point", "shape": "circle", "filled": true, "fill": "#1a55e8", "stroke": "#222222", "strokeWidth": 1, "size": 165, "opacity": 1}},
      {"data": {"name": "c_t2"}, "mark": {"type": "point", "shape": "triangle-up", "filled": true, "fill": "#0f8a4a", "stroke": "#222222", "strokeWidth": 1, "size": 235, "opacity": 1}},
      {"data": {"name": "c_T"}, "mark": {"type": "point", "shape": "square", "filled": true, "fill": "#f5891f", "stroke": "#222222", "strokeWidth": 1, "size": 160, "opacity": 1}},
      {"data": {"values": [{"x": 0.893, "x2": 5.713, "y": 0.0881}]}, "mark": {"type": "rule", "color": "#ff1a1a", "strokeWidth": 2}, "encoding": {"x2": {"field": "x2"}}},
      {"data": {"values": [{"x": 0.893, "x2": 5.713, "y": 0.0746}]}, "mark": {"type": "rule", "color": "#e6198c", "strokeWidth": 2}, "encoding": {"x2": {"field": "x2"}}},
      {"data": {"values": [{"x": 0.893, "x2": 5.713, "y": 0.0405}]}, "mark": {"type": "rule", "color": "#111111", "strokeWidth": 2, "strokeDash": [10, 6]}, "encoding": {"x2": {"field": "x2"}}},
      {"data": {"values": [{"x": 4.936, "x2": 5.713, "y": 1.934, "y2": 12.5}]}, "mark": {"type": "rect", "fill": "white", "stroke": "#222222", "strokeWidth": 1.5}, "encoding": {"x2": {"field": "x2"}, "y2": {"field": "y2"}}},
      {"data": {"values": [{"x": 5.135, "y": 9.09}]}, "mark": {"type": "point", "shape": "circle", "filled": true, "fill": "#1a55e8", "stroke": "#222222", "strokeWidth": 1, "size": 165, "opacity": 1}},
      {"data": {"values": [{"x": 5.135, "y": 5.21}]}, "mark": {"type": "point", "shape": "triangle-up", "filled": true, "fill": "#0f8a4a", "stroke": "#222222", "strokeWidth": 1, "size": 235, "opacity": 1}},
      {"data": {"values": [{"x": 5.135, "y": 2.99}]}, "mark": {"type": "point", "shape": "square", "filled": true, "fill": "#f5891f", "stroke": "#222222", "strokeWidth": 1, "size": 160, "opacity": 1}},
      {"data": {"values": [{"x": 5.75, "x2": 6.007, "y": 0.0888, "y2": 0.1024}, {"x": 5.75, "x2": 6.007, "y": 0.0706, "y2": 0.0574}, {"x": 5.75, "x2": 6.007, "y": 0.0402, "y2": 0.0402}]},
       "mark": {"type": "rule", "color": "#111111", "strokeWidth": 1.5}, "encoding": {"x2": {"field": "x2"}, "y2": {"field": "y2"}}},
      {"data": {"values": [{"x": 5.818, "y": 0.0922}]}, "mark": {"type": "point", "shape": "triangle-left", "filled": true, "fill": "#111111", "strokeWidth": 0, "size": 170, "angle": -14, "opacity": 1}},
      {"data": {"values": [{"x": 5.818, "y": 0.0669}]}, "mark": {"type": "point", "shape": "triangle-left", "filled": true, "fill": "#111111", "strokeWidth": 0, "size": 170, "angle": 20, "opacity": 1}},
      {"data": {"values": [{"x": 5.818, "y": 0.0402}]}, "mark": {"type": "point", "shape": "triangle-left", "filled": true, "fill": "#111111", "strokeWidth": 0, "size": 170, "opacity": 1}},
      {"data": {"values": [{"x": 2.596, "y": 0.01047, "t": "fluence"}, {"x": 5.328, "y": 9.156, "t": "τ"}, {"x": 5.328, "y": 5.21, "t": "τ"}, {"x": 6.021, "y": 0.0385, "t": "τ"}]},
       "mark": {"type": "text"}, "encoding": {"text": {"field": "t"}}},
      {"data": {"values": [{"x": 3.3996, "y": 0.01047, "t": "F/F"}, {"x": 5.346, "y": 2.99, "t": "T"}, {"x": 6.021, "y": 0.104, "t": "t"}, {"x": 6.021, "y": 0.0588, "t": "t"}]},
       "mark": {"type": "text", "fontStyle": "italic"}, "encoding": {"text": {"field": "t"}}},
      {"data": {"values": [{"x": 3.757, "y": 0.0089, "t": "TH"}, {"x": 5.421, "y": 8.07, "t": "1"}, {"x": 5.421, "y": 4.59, "t": "2"}]},
       "mark": {"type": "text", "fontSize": 14}, "encoding": {"text": {"field": "t"}}},
      {"data": {"values": [{"x": 5.474, "y": 2.454, "t": "1/2"}, {"x": 6.117, "y": 0.084, "t": "1"}, {"x": 6.117, "y": 0.0498, "t": "2"}, {"x": 6.12, "y": 0.034, "t": "F"}]},
       "mark": {"type": "text", "fontSize": 14, "fontStyle": "italic"}, "encoding": {"text": {"field": "t"}}},
      {"data": {"values": [{"x": 1.147, "y": 7.05, "t": "c)"}]},
       "mark": {"type": "text", "fontSize": 23}, "encoding": {"text": {"field": "t"}}}
    ]
  },
  {"data": {"name": "a_frame"}, "mark": {"type": "point", "opacity": 0},
   "encoding": {
     "x": {"field": "x", "type": "quantitative", "scale": {"domain": [-0.2979, 3.0397], "range": [81.7, 1090], "nice": false, "zero": false},
           "axis": {"orient": "bottom", "offset": -373.7, "values": [0, 1, 2, 3], "ticks": false, "labelPadding": 8, "labelExpr": "'' + datum.value", "title": "delay (ps)", "titleX": 608, "titleY": 25.7, "titleAlign": "center", "titleBaseline": "middle", "titleAngle": 0, "zindex": 1}},
     "y": {"field": "y", "type": "quantitative", "scale": {"domain": [-0.0327, 0.00535], "range": [283.3, 1], "nice": false, "zero": false},
           "axis": {"orient": "left", "offset": -81.7, "values": [-0.03, -0.02, -0.01, 0], "ticks": false, "labelPadding": 4.7, "labelExpr": "'' + datum.value", "title": "ΔR/R", "titleFontStyle": "italic", "titleX": -54.7, "titleY": 160, "titleAngle": 270, "titleAlign": "center", "titleBaseline": "alphabetic", "zindex": 1}}
   }},
  {"data": {"name": "i_frame"}, "mark": {"type": "point", "opacity": 0},
   "encoding": {
     "x": {"field": "x", "type": "quantitative", "scale": {"domain": [1.93, 12.059], "range": [443.3, 1076.7], "nice": false, "zero": false},
           "axis": {"orient": "bottom", "offset": -457, "values": [2, 4, 6, 8, 10, 12], "ticks": false, "labelPadding": 5.2, "labelExpr": "'' + datum.value", "title": "frequency (THz)", "titleX": 740, "titleY": 35, "titleAlign": "center", "titleBaseline": "alphabetic", "titleAngle": 0, "zindex": 1}},
     "y": {"field": "y", "type": "quantitative", "scale": {"domain": [-0.0333, 1.031], "range": [200, 62.7], "nice": false, "zero": false},
           "axis": {"orient": "left", "offset": -443.3, "values": [0], "ticks": false, "labelPadding": 1.3, "labelExpr": "'' + datum.value", "title": "res. FT amp.", "titleX": -6.6, "titleY": 123, "titleAngle": 270, "titleAlign": "center", "titleBaseline": "alphabetic", "zindex": 1}}
   }},
  {"data": {"name": "b_frame"}, "mark": {"type": "point", "opacity": 0},
   "encoding": {
     "x": {"field": "x", "type": "quantitative", "scale": {"domain": [0.893, 5.718], "range": [81.7, 534], "nice": false, "zero": false},
           "axis": {"orient": "bottom", "offset": -54.3, "values": [1, 2, 3, 4, 5], "ticks": false, "labelPadding": 5, "labelExpr": "'' + datum.value", "title": null, "zindex": 1}},
     "y": {"field": "y", "type": "quantitative", "scale": {"domain": [-0.03372, 0.01672], "range": [602.7, 340], "nice": false, "zero": false},
           "axis": {"orient": "left", "offset": -81.7, "values": [-0.03, -0.02, -0.01, 0, 0.01], "ticks": false, "labelPadding": 6.7, "labelExpr": "'' + datum.value", "title": "ΔR/R", "titleFontStyle": "italic", "titleX": -55.7, "titleY": 488, "titleAngle": 270, "titleAlign": "center", "titleBaseline": "alphabetic", "zindex": 1}}
   }},
  {"data": {"name": "c_frame"}, "mark": {"type": "point", "opacity": 0},
   "encoding": {
     "x": {"field": "x", "type": "quantitative", "scale": {"domain": [0.893, 5.713], "range": [600.3, 1050.3], "nice": false, "zero": false},
           "axis": {"orient": "bottom", "offset": -54, "values": [1, 2, 3, 4, 5], "ticks": false, "labelPadding": 5, "labelExpr": "'' + datum.value", "title": null, "zindex": 1}},
     "y": {"field": "y", "type": "quantitative", "scale": {"type": "log", "domain": [0.0238, 12.5], "range": [603, 340], "nice": false, "zero": false},
           "axis": {"orient": "left", "offset": -600.3, "values": [0.1, 1, 10], "ticks": false, "labelPadding": 4.3, "labelExpr": "'' + datum.value", "title": "time constants (ps)", "titleX": -34.3, "titleY": 478, "titleAngle": 270, "titleAlign": "center", "titleBaseline": "alphabetic", "zindex": 1}}
   }},
  {"data": {"name": "a_frame"}, "mark": {"type": "point", "opacity": 0},
   "encoding": {
     "x": {"field": "x", "type": "quantitative", "scale": {"domain": [-0.2979, 3.0397], "range": [81.7, 1090], "nice": false, "zero": false},
           "axis": {"orient": "top", "offset": -283.3, "values": [0, 1, 2, 3], "labelExpr": "''", "title": null, "zindex": 1}},
     "y": {"field": "y", "type": "quantitative", "scale": {"domain": [-0.0327, 0.00535], "range": [283.3, 1], "nice": false, "zero": false},
           "axis": {"orient": "right", "offset": -1009.3, "values": [-0.03, -0.025, -0.02, -0.015, -0.01, -0.005, 0, 0.005], "labelExpr": "''", "title": null, "zindex": 1}}
   }},
  {"data": {"name": "b_frame"}, "mark": {"type": "point", "opacity": 0},
   "encoding": {
     "x": {"field": "x", "type": "quantitative", "scale": {"domain": [0.893, 5.718], "range": [81.7, 534], "nice": false, "zero": false},
           "axis": {"orient": "top", "offset": -602.7, "values": [1, 2, 3, 4, 5], "labelExpr": "''", "title": null, "zindex": 1}},
     "y": {"field": "y", "type": "quantitative", "scale": {"domain": [-0.03372, 0.01672], "range": [602.7, 340], "nice": false, "zero": false},
           "axis": {"orient": "right", "offset": -1009.3, "values": [-0.03, -0.02, -0.01, 0, 0.01], "labelExpr": "''", "title": null, "zindex": 1}}
   }},
  {"data": {"name": "c_frame"}, "mark": {"type": "point", "opacity": 0},
   "encoding": {
     "x": {"field": "x", "type": "quantitative", "scale": {"domain": [0.893, 5.713], "range": [600.3, 1050.3], "nice": false, "zero": false},
           "axis": {"orient": "top", "offset": -603, "values": [1, 2, 3, 4, 5], "labelExpr": "''", "title": null, "zindex": 1}},
     "y": {"field": "y", "type": "quantitative", "scale": {"type": "log", "domain": [0.0238, 12.5], "range": [603, 340], "nice": false, "zero": false},
           "axis": {"orient": "right", "offset": -490.7, "values": [0.1, 1, 10], "labelExpr": "''", "title": null, "zindex": 1}}
   }}
]
}
